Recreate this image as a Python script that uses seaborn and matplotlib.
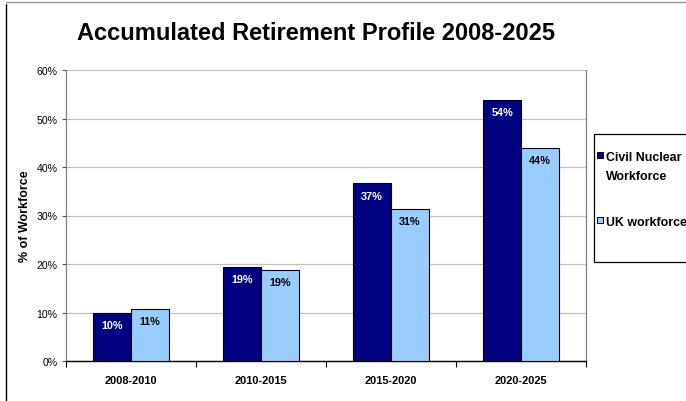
import matplotlib
matplotlib.use("Agg")
import matplotlib.pyplot as plt
import seaborn as sns
import pandas as pd
from matplotlib.patches import Rectangle
from matplotlib.lines import Line2D

categories = ["2008-2010", "2010-2015", "2015-2020", "2020-2025"]
series_names = ["Civil Nuclear Workforce", "UK workforce"]
legend_labels = ["Civil Nuclear\nWorkforce", "UK workforce"]
civil_values = [9.9, 19.4, 36.6, 53.8]
uk_values = [10.8, 18.8, 31.4, 44.0]
civil_labels = ["10%", "19%", "37%", "54%"]
uk_labels = ["11%", "19%", "31%", "44%"]
yticks = [0, 10, 20, 30, 40, 50, 60]
colors = ["#000080", "#99CCFF"]
label_colors = ["white", "black"]

df = pd.DataFrame({
    "Period": categories * 2,
    "Series": [series_names[0]] * 4 + [series_names[1]] * 4,
    "Value": civil_values + uk_values,
})

sns.set_theme(style="white")
plt.rcParams["font.family"] = ["Liberation Sans", "DejaVu Sans"]
for k in ["text.color", "axes.labelcolor", "xtick.color", "ytick.color"]:
    plt.rcParams[k] = "black"

W, H = 686, 402
fig = plt.figure(figsize=(W / 100, H / 100), dpi=100)
ax = fig.add_axes([66 / W, 1 - 362 / H, (586 - 66) / W, (362 - 71) / H])

sns.barplot(data=df, x="Period", y="Value", hue="Series", order=categories,
            hue_order=series_names, palette=colors, saturation=1, width=0.58,
            edgecolor="black", linewidth=0.8, ax=ax, legend=False, zorder=3)

for cont, labs, c in zip(ax.containers, [civil_labels, uk_labels], label_colors):
    ax.bar_label(cont, labels=labs, padding=-12.5, color=c, fontsize=7.8,
                 fontweight="bold", zorder=4)

ax.set_ylim(0, 60)
ax.set_xlim(-0.5, 3.5)
ax.set_yticks(yticks)
ax.set_yticklabels([f"{v}%" for v in yticks], fontsize=7.6)
ax.yaxis.grid(True, color="#c0c0c0", linewidth=0.9, zorder=0)
ax.tick_params(axis="y", left=True, length=3, width=0.8, color="#555555", pad=3)

ax.set_xticks([-0.5, 0.5, 1.5, 2.5, 3.5])
ax.set_xticklabels([])
ax.set_xticks(range(len(categories)), minor=True)
ax.set_xticklabels(categories, minor=True, fontsize=7.9, fontweight="bold")
ax.tick_params(axis="x", which="major", bottom=True, length=4, width=0.8, color="black", direction="out")
ax.tick_params(axis="x", which="minor", bottom=False, length=0, pad=10)

ax.set_xlabel("")
ax.set_ylabel("% of Workforce", fontsize=9, fontweight="bold")
ax.yaxis.set_label_coords(-(66 - 31) / (586 - 66), 0.5)

for s in ["left", "right", "top"]:
    ax.spines[s].set_color("#808080")
    ax.spines[s].set_linewidth(0.9)
ax.spines["top"].set_visible(False)
ax.spines["bottom"].set_color("black")
ax.spines["bottom"].set_linewidth(1.0)

fig.text(316 / W, 1 - 33 / H, "Accumulated Retirement Profile 2008-2025",
         ha="center", va="center", fontsize=17, fontweight="bold")

# figure border
fig.add_artist(Line2D([5.5 / W, 5.5 / W], [0, 1 - 5 / H], transform=fig.transFigure,
                      color="black", linewidth=1.0))
fig.add_artist(Line2D([5.5 / W, 1], [1 - 3 / H, 1 - 3 / H], transform=fig.transFigure,
                      color="#999999", linewidth=1.0))

# legend box
fig.add_artist(Rectangle((593.5 / W, 1 - 263 / H), 0.2, 128 / H, transform=fig.transFigure,
                         facecolor="white", edgecolor="black", linewidth=0.9))
legend_baselines = [161, 226]
line_step = 19
for lab, col, y in zip(legend_labels, colors, legend_baselines):
    fig.add_artist(Rectangle((597 / W, 1 - (y - 2) / H), 6 / W, 6 / H,
                             transform=fig.transFigure, facecolor=col,
                             edgecolor="black", linewidth=0.7))
    for i, line in enumerate(lab.split("\n")):
        fig.text(605.5 / W, 1 - (y + i * line_step) / H, line, ha="left", va="baseline",
                 fontsize=8.9, fontweight="bold")

fig.savefig("out.png", dpi=100)
